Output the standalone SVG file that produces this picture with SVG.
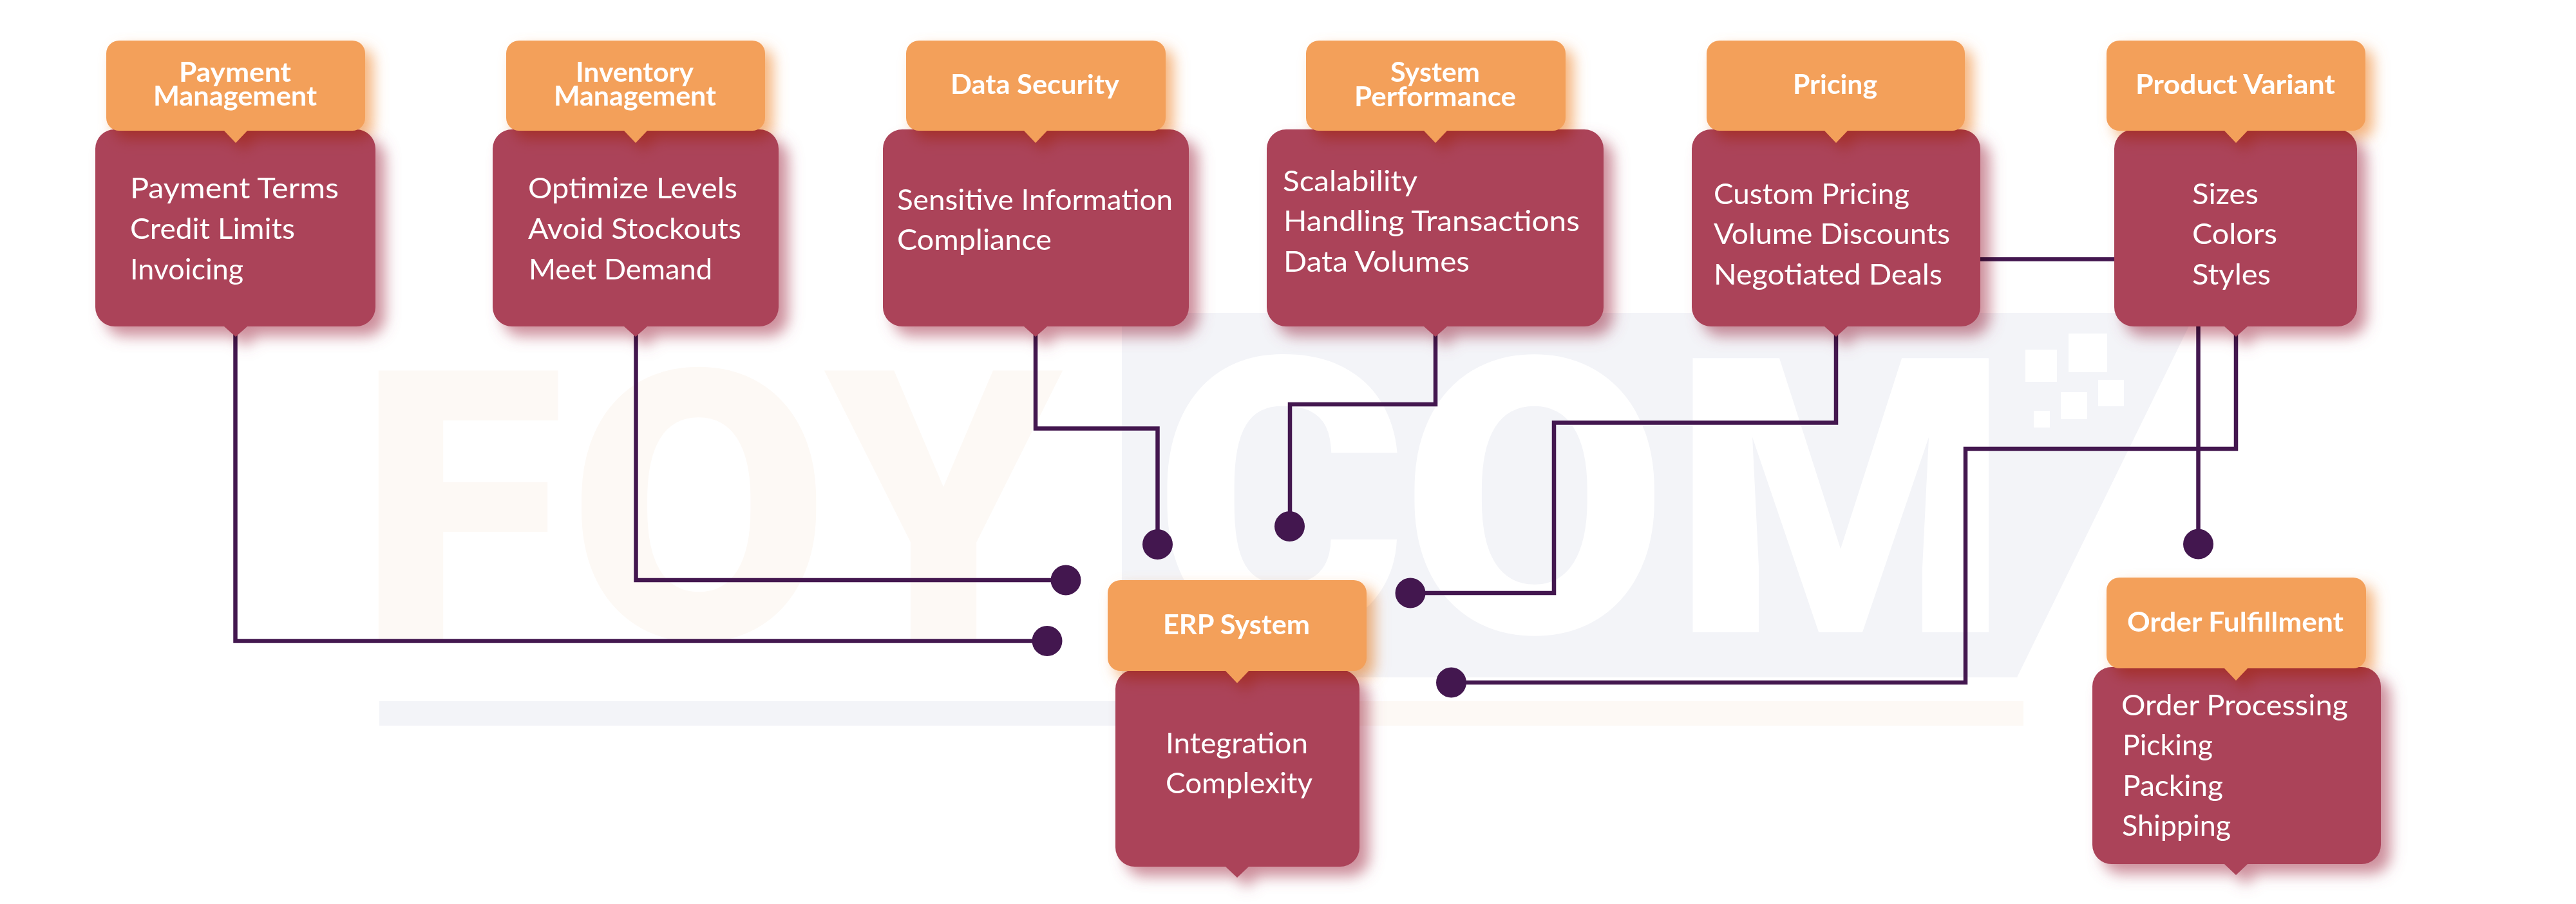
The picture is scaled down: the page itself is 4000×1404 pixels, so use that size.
<svg xmlns="http://www.w3.org/2000/svg" width="4000" height="1404" viewBox="0 0 4000 1404">
<style>
.bg{fill:#fff}
.panel{fill:#f3f4f8}
.peach{fill:#fdf9f5}
.wm{font-family:Roboto,"Liberation Sans",sans-serif;font-weight:900}
.wh{fill:#fff}
.conn{fill:none;stroke:#43174f;stroke-width:6.5;stroke-linejoin:miter}
.dot{fill:#43174f;stroke:none}
.b{fill:#ab4359}
.h{fill:#f3a05a}
.bs{fill:#ab4359;opacity:.6;filter:url(#blur);mix-blend-mode:multiply}
.hs{fill:#f3a05a;opacity:.8;filter:url(#blur);mix-blend-mode:multiply}
.t{font-family:Lato,"Liberation Sans",sans-serif;font-size:45px;fill:#fff;transform:translateX(-2px)}
.ht{font-family:Lato,"Liberation Sans",sans-serif;font-size:42px;font-weight:700;fill:#fff;transform:translateX(-2px)}
</style>
<defs>
<filter id="blur" x="-20%" y="-20%" width="140%" height="140%"><feGaussianBlur stdDeviation="11"/></filter>
<path id="pb1" d="M178 201H553A30 30 0 0 1 583 231V477A30 30 0 0 1 553 507H384L366 523L348 507H178A30 30 0 0 1 148 477V231A30 30 0 0 1 178 201Z"/>
<path id="ph1" d="M185 63H547A20 20 0 0 1 567 83V183A20 20 0 0 1 547 203H384L366 222L348 203H185A20 20 0 0 1 165 183V83A20 20 0 0 1 185 63Z"/>
<path id="pb2" d="M795 201H1179A30 30 0 0 1 1209 231V477A30 30 0 0 1 1179 507H1005L987 523L969 507H795A30 30 0 0 1 765 477V231A30 30 0 0 1 795 201Z"/>
<path id="ph2" d="M806 63H1168A20 20 0 0 1 1188 83V183A20 20 0 0 1 1168 203H1005L987 222L969 203H806A20 20 0 0 1 786 183V83A20 20 0 0 1 806 63Z"/>
<path id="pb3" d="M1401 201H1816A30 30 0 0 1 1846 231V477A30 30 0 0 1 1816 507H1626L1608 523L1590 507H1401A30 30 0 0 1 1371 477V231A30 30 0 0 1 1401 201Z"/>
<path id="ph3" d="M1427 63H1790A20 20 0 0 1 1810 83V183A20 20 0 0 1 1790 203H1626L1608 222L1590 203H1427A20 20 0 0 1 1407 183V83A20 20 0 0 1 1427 63Z"/>
<path id="pb4" d="M1997 201H2460A30 30 0 0 1 2490 231V477A30 30 0 0 1 2460 507H2247L2229 523L2211 507H1997A30 30 0 0 1 1967 477V231A30 30 0 0 1 1997 201Z"/>
<path id="ph4" d="M2048 63H2411A20 20 0 0 1 2431 83V183A20 20 0 0 1 2411 203H2247L2229 222L2211 203H2048A20 20 0 0 1 2028 183V83A20 20 0 0 1 2048 63Z"/>
<path id="pb5" d="M2657 201H3045A30 30 0 0 1 3075 231V477A30 30 0 0 1 3045 507H2869L2851 523L2833 507H2657A30 30 0 0 1 2627 477V231A30 30 0 0 1 2657 201Z"/>
<path id="ph5" d="M2670 63H3031A20 20 0 0 1 3051 83V183A20 20 0 0 1 3031 203H2869L2851 222L2833 203H2670A20 20 0 0 1 2650 183V83A20 20 0 0 1 2670 63Z"/>
<path id="pb6" d="M3313 201H3630A30 30 0 0 1 3660 231V477A30 30 0 0 1 3630 507H3490L3472 523L3454 507H3313A30 30 0 0 1 3283 477V231A30 30 0 0 1 3313 201Z"/>
<path id="ph6" d="M3291 63H3653A20 20 0 0 1 3673 83V183A20 20 0 0 1 3653 203H3490L3472 222L3454 203H3291A20 20 0 0 1 3271 183V83A20 20 0 0 1 3291 63Z"/>
<path id="pb7" d="M1762 1040H2081A30 30 0 0 1 2111 1070V1316A30 30 0 0 1 2081 1346H1939L1921 1363L1903 1346H1762A30 30 0 0 1 1732 1316V1070A30 30 0 0 1 1762 1040Z"/>
<path id="ph7" d="M1740 901H2102A20 20 0 0 1 2122 921V1022A20 20 0 0 1 2102 1042H1939L1921 1061L1903 1042H1740A20 20 0 0 1 1720 1022V921A20 20 0 0 1 1740 901Z"/>
<path id="pb8" d="M3279 1036H3667A30 30 0 0 1 3697 1066V1312A30 30 0 0 1 3667 1342H3490L3472 1359L3454 1342H3279A30 30 0 0 1 3249 1312V1066A30 30 0 0 1 3279 1036Z"/>
<path id="ph8" d="M3291 897H3654A20 20 0 0 1 3674 917V1018A20 20 0 0 1 3654 1038H3490L3472 1057L3454 1038H3291A20 20 0 0 1 3271 1018V917A20 20 0 0 1 3291 897Z"/>
</defs>
<rect class="bg" width="4000" height="1404"/>
<g id="watermark">
<text class="wm peach" font-size="586" x="556 883 1281" y="992">FOY</text>
<polygon class="panel" points="1742,486 3409,486 3132,1052 1742,1052"/>
<text class="wm wh" font-size="599" x="1792 2176 2596" y="982">COM</text>
<rect class="wh" x="3145" y="543" width="49" height="50"/>
<rect class="wh" x="3212" y="518" width="60" height="60"/>
<rect class="wh" x="3258" y="590" width="40" height="41"/>
<rect class="wh" x="3200" y="609" width="41" height="42"/>
<rect class="wh" x="3158" y="638" width="25" height="26"/>
<rect class="panel" x="589" y="1089" width="1153" height="38"/>
<rect class="peach" x="1742" y="1089" width="1400" height="38"/>
</g>
<g id="connectors">
<path class="conn" d="M365.5 510V995.5H1626"/>
<path class="conn" d="M987.5 510V901H1655"/>
<path class="conn" d="M1608 510V665.5H1797.5V845"/>
<path class="conn" d="M2229 510V628H2003V817"/>
<path class="conn" d="M2851 510V656.5H2413V921H2190"/>
<path class="conn" d="M3472 510V697H3052V1060H2254"/>
<path class="conn" d="M3413.5 500V845"/>
<path class="conn" d="M3070 402.5H3290"/>
<circle class="dot" cx="1626" cy="995.5" r="23.5"/>
<circle class="dot" cx="1655" cy="901" r="23.5"/>
<circle class="dot" cx="1797.5" cy="845.5" r="23.5"/>
<circle class="dot" cx="2002.5" cy="817.5" r="23.5"/>
<circle class="dot" cx="2190" cy="921" r="23.5"/>
<circle class="dot" cx="2253.5" cy="1060" r="23.5"/>
<circle class="dot" cx="3413.5" cy="845" r="23.5"/>
</g>
<g id="payment-management">
<use class="bs" href="#pb1" transform="translate(15 15)"/><use class="b" href="#pb1"/>
<use class="hs" href="#ph1" transform="translate(12 12)"/><use class="h" href="#ph1"/>
<text class="ht" x="280" y="127" textLength="174" lengthAdjust="spacingAndGlyphs">Payment</text>
<text class="ht" x="240" y="164" textLength="254" lengthAdjust="spacingAndGlyphs">Management</text>
<text class="t" x="204" y="308" textLength="324" lengthAdjust="spacingAndGlyphs">Payment Terms</text>
<text class="t" x="204" y="371" textLength="256" lengthAdjust="spacingAndGlyphs">Credit Limits</text>
<text class="t" x="204" y="434" textLength="176" lengthAdjust="spacingAndGlyphs">Invoicing</text>
</g>
<g id="inventory-management">
<use class="bs" href="#pb2" transform="translate(15 15)"/><use class="b" href="#pb2"/>
<use class="hs" href="#ph2" transform="translate(12 12)"/><use class="h" href="#ph2"/>
<text class="ht" x="896" y="127" textLength="183" lengthAdjust="spacingAndGlyphs">Inventory</text>
<text class="ht" x="862" y="164" textLength="252" lengthAdjust="spacingAndGlyphs">Management</text>
<text class="t" x="822" y="308" textLength="325" lengthAdjust="spacingAndGlyphs">Optimize Levels</text>
<text class="t" x="822" y="371" textLength="331" lengthAdjust="spacingAndGlyphs">Avoid Stockouts</text>
<text class="t" x="823" y="434" textLength="285" lengthAdjust="spacingAndGlyphs">Meet Demand</text>
</g>
<g id="data-security">
<use class="bs" href="#pb3" transform="translate(15 15)"/><use class="b" href="#pb3"/>
<use class="hs" href="#ph3" transform="translate(12 12)"/><use class="h" href="#ph3"/>
<text class="ht" x="1478" y="146" textLength="262" lengthAdjust="spacingAndGlyphs">Data Security</text>
<text class="t" x="1395" y="326" textLength="428" lengthAdjust="spacingAndGlyphs">Sensitive Information</text>
<text class="t" x="1395" y="388" textLength="240" lengthAdjust="spacingAndGlyphs">Compliance</text>
</g>
<g id="system-performance">
<use class="bs" href="#pb4" transform="translate(15 15)"/><use class="b" href="#pb4"/>
<use class="hs" href="#ph4" transform="translate(12 12)"/><use class="h" href="#ph4"/>
<text class="ht" x="2161" y="127" textLength="139" lengthAdjust="spacingAndGlyphs">System</text>
<text class="ht" x="2105" y="165" textLength="251" lengthAdjust="spacingAndGlyphs">Performance</text>
<text class="t" x="1994" y="297" textLength="209" lengthAdjust="spacingAndGlyphs">Scalability</text>
<text class="t" x="1995" y="359" textLength="460" lengthAdjust="spacingAndGlyphs">Handling Transactions</text>
<text class="t" x="1995" y="422" textLength="289" lengthAdjust="spacingAndGlyphs">Data Volumes</text>
</g>
<g id="pricing">
<use class="bs" href="#pb5" transform="translate(15 15)"/><use class="b" href="#pb5"/>
<use class="hs" href="#ph5" transform="translate(12 12)"/><use class="h" href="#ph5"/>
<text class="ht" x="2786" y="146" textLength="131" lengthAdjust="spacingAndGlyphs">Pricing</text>
<text class="t" x="2663" y="317" textLength="304" lengthAdjust="spacingAndGlyphs">Custom Pricing</text>
<text class="t" x="2663" y="379" textLength="367" lengthAdjust="spacingAndGlyphs">Volume Discounts</text>
<text class="t" x="2663" y="442" textLength="355" lengthAdjust="spacingAndGlyphs">Negotiated Deals</text>
</g>
<g id="product-variant">
<use class="bs" href="#pb6" transform="translate(15 15)"/><use class="b" href="#pb6"/>
<use class="hs" href="#ph6" transform="translate(12 12)"/><use class="h" href="#ph6"/>
<text class="ht" x="3318" y="146" textLength="310" lengthAdjust="spacingAndGlyphs">Product Variant</text>
<text class="t" x="3406" y="317" textLength="103" lengthAdjust="spacingAndGlyphs">Sizes</text>
<text class="t" x="3406" y="379" textLength="132" lengthAdjust="spacingAndGlyphs">Colors</text>
<text class="t" x="3406" y="442" textLength="122" lengthAdjust="spacingAndGlyphs">Styles</text>
</g>
<g id="erp-system">
<use class="bs" href="#pb7" transform="translate(15 15)"/><use class="b" href="#pb7"/>
<use class="hs" href="#ph7" transform="translate(12 12)"/><use class="h" href="#ph7"/>
<text class="ht" x="1808" y="985" textLength="228" lengthAdjust="spacingAndGlyphs">ERP System</text>
<text class="t" x="1812" y="1170" textLength="221" lengthAdjust="spacingAndGlyphs">Integration</text>
<text class="t" x="1812" y="1232" textLength="228" lengthAdjust="spacingAndGlyphs">Complexity</text>
</g>
<g id="order-fulfillment">
<use class="bs" href="#pb8" transform="translate(15 15)"/><use class="b" href="#pb8"/>
<use class="hs" href="#ph8" transform="translate(12 12)"/><use class="h" href="#ph8"/>
<text class="ht" x="3305" y="981" textLength="336" lengthAdjust="spacingAndGlyphs">Order Fulfillment</text>
<text class="t" x="3296" y="1111" textLength="352" lengthAdjust="spacingAndGlyphs">Order Processing</text>
<text class="t" x="3298" y="1173" textLength="140" lengthAdjust="spacingAndGlyphs">Picking</text>
<text class="t" x="3298" y="1236" textLength="156" lengthAdjust="spacingAndGlyphs">Packing</text>
<text class="t" x="3297" y="1298" textLength="169" lengthAdjust="spacingAndGlyphs">Shipping</text>
</g>
</svg>
